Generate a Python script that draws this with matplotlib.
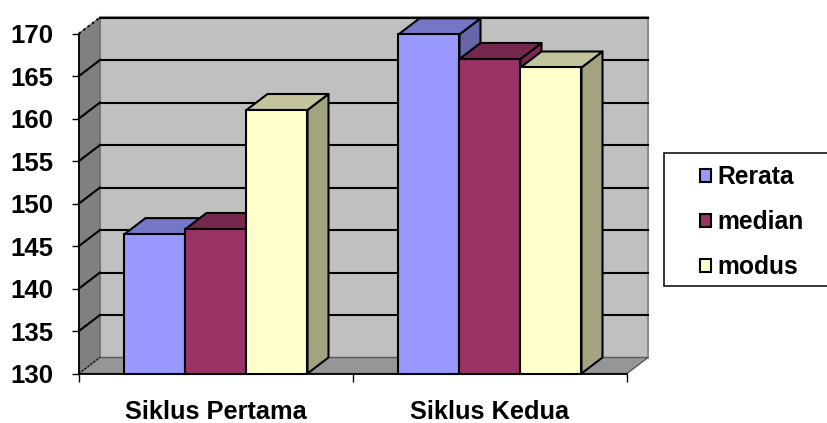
import matplotlib
matplotlib.use("Agg")
import matplotlib.pyplot as plt
from matplotlib.patches import Polygon, Rectangle

# Data
siklus = ["Siklus Pertama", "Siklus Kedua"]
rerata = [146.4, 169.9]
median = [147.0, 167.0]
modus = [161.0, 166.0]
yticks = [130, 135, 140, 145, 150, 155, 160, 165, 170]

plt.rcParams["font.family"] = ["Liberation Sans", "DejaVu Sans"]
plt.rcParams["font.weight"] = "bold"

fig = plt.figure(figsize=(8.28, 4.23), dpi=100)
W, H = 828, 423
ax = fig.add_axes([79 / W, 1 - 373.5 / H, 548 / W, 340 / H])
ax.set_xlim(0, 2)
ax.set_ylim(130, 170)

# depth of the fake 3D box, in data units
dx = 21 / 274
dy = 16 / 8.5
bar_w = 61 / 274


def poly(points, color, z):
    ax.add_patch(Polygon(points, closed=True, facecolor=color, edgecolor="black",
                         linewidth=1.5, zorder=z, clip_on=False, joinstyle="round"))


# walls and floor
ax.add_patch(Rectangle((dx, 130 + dy), 2, 40, facecolor="#c0c0c0", edgecolor="#8c8c8c",
                       linewidth=1.5, zorder=1, clip_on=False))
ax.add_patch(Polygon([(0, 130), (dx, 130 + dy), (dx, 170 + dy), (0, 170)], closed=True,
                     facecolor="#808080", edgecolor="#6e6e6e", linewidth=1, zorder=1, clip_on=False))
ax.add_patch(Polygon([(0, 130), (2, 130), (2 + dx, 130 + dy), (dx, 130 + dy)], closed=True,
                     facecolor="#969696", edgecolor="#5a5a5a", linewidth=1, zorder=1, clip_on=False))

# gridlines on back and side wall
for v in yticks[1:]:
    ax.plot([dx, 2 + dx], [v + dy, v + dy], color="black", lw=1.5, zorder=2, clip_on=False)
    ax.plot([0, dx], [v, v + dy], color="black", lw=1.5, zorder=2, clip_on=False,
            linestyle="-" if v < 170 else ":")
ax.plot([0, dx], [130, 130 + dy], color="black", lw=1, linestyle=":", zorder=2, clip_on=False)

series = [
    ("Rerata", rerata, "#9999ff", "#7676c6", "#6666a8"),
    ("median", median, "#993366", "#74284e", "#7a2a52"),
    ("modus", modus, "#ffffcc", "#c4c49c", "#a3a380"),
]

handles = []
z = 3
for g, center in enumerate([0.5, 1.5]):
    for i, (name, vals, face, top, side) in enumerate(series):
        left = center + (i - 1.5) * bar_w
        v = vals[g]
        right = left + bar_w
        poly([(right, 130), (right + dx, 130 + dy), (right + dx, v + dy), (right, v)], side, z)
        poly([(left, v), (right, v), (right + dx, v + dy), (left + dx, v + dy)], top, z)
        b = ax.bar(left, v - 130, bottom=130, width=bar_w, align="edge", color=face,
                   edgecolor="black", linewidth=1.5, zorder=z + 0.5, clip_on=False)
        if g == 0:
            handles.append(b[0])
        z += 1

# axes
for s in ["top", "right"]:
    ax.spines[s].set_visible(False)
for s in ["left", "bottom"]:
    ax.spines[s].set_linewidth(1.3)
    ax.spines[s].set_zorder(20)
ax.patch.set_visible(False)
ax.set_yticks(yticks)
ax.set_xticks([0, 1, 2])
ax.set_xticklabels([])
ax.set_xticks([0.5, 1.5], labels=siklus, minor=True)
ax.tick_params(axis="y", length=5, width=1, pad=13.5, labelsize=18.5)
ax.tick_params(axis="x", which="major", length=6, width=1)
ax.tick_params(axis="x", which="minor", length=0, pad=19, labelsize=18.3)

# legend box runs off the right edge
fig.add_artist(Rectangle((664 / W, 1 - 286 / H), 180 / W, 133 / H, transform=fig.transFigure,
                         facecolor="white", edgecolor="black", linewidth=1.1))
leg = fig.legend(handles, [s[0] for s in series], loc="upper left",
                 bbox_to_anchor=(688 / W, 1 - 153 / H), frameon=False, fontsize=17.7,
                 handlelength=0.45, handleheight=0.45, handletextpad=0.25, labelspacing=0.85,
                 borderpad=0.5, borderaxespad=0)
for h in leg.legend_handles:
    h.set_linewidth(1.5)

fig.savefig("out.png", dpi=100)
